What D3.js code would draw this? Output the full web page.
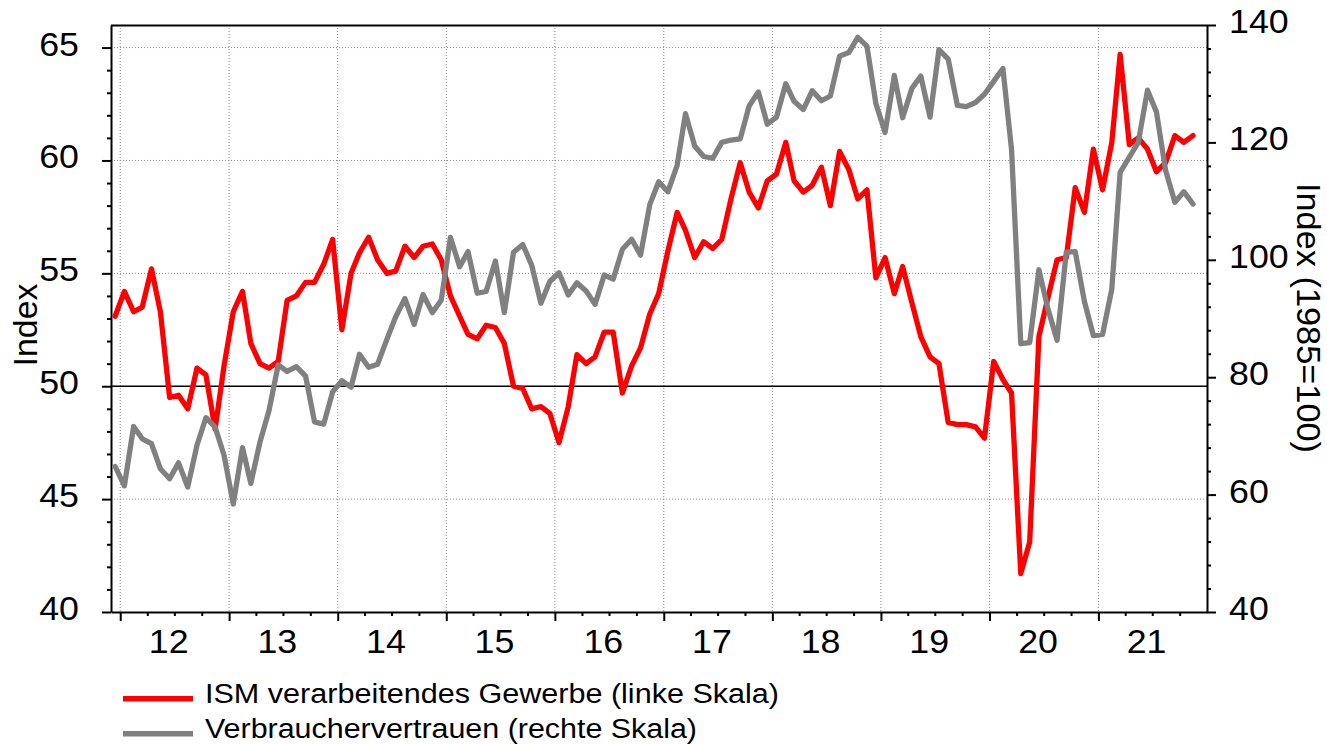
<!doctype html>
<html>
<head>
<meta charset="utf-8">
<title>ISM und Verbrauchervertrauen</title>
<script src="https://d3js.org/d3.v7.min.js"></script>
<style>
  body { margin: 0; background: #fff; }
  svg text { font-family: "Liberation Sans", Arial, sans-serif; fill: #000; }
</style>
</head>
<body>
<svg id="chart" width="1327" height="744"></svg>
<script>

// monthly values, Dec 2011 .. Nov 2021
var ism = [53.1,
  54.2, 53.3, 53.5, 55.2, 53.3, 49.5, 49.6, 49.0, 50.8, 50.5, 48.1, 50.9,
  53.3, 54.2, 51.9, 51.0, 50.8, 51.1, 53.8, 54.0, 54.6, 54.6, 55.4, 56.5,
  52.5, 55.0, 55.9, 56.6, 55.6, 55.0, 55.1, 56.2, 55.7, 56.2, 56.3, 55.6,
  54.0, 53.1, 52.3, 52.1, 52.7, 52.6, 51.9, 50.0, 49.9, 49.0, 49.1, 48.8,
  47.5, 49.1, 51.4, 51.0, 51.3, 52.4, 52.4, 49.7, 50.9, 51.7, 53.2, 54.1,
  56.0, 57.7, 56.9, 55.7, 56.4, 56.1, 56.5, 58.3, 59.9, 58.6, 57.9, 59.1,
  59.4, 60.8, 59.1, 58.6, 58.9, 59.7, 58.0, 60.4, 59.6, 58.3, 58.7, 54.8,
  55.7, 54.1, 55.3, 53.7, 52.2, 51.3, 51.0, 48.4, 48.3, 48.3, 48.2, 47.7,
  51.1, 50.3, 49.7, 41.7, 43.1, 52.2, 53.9, 55.6, 55.7, 58.8, 57.7, 60.5,
  58.7, 60.8, 64.7, 60.7, 61.0, 60.5, 59.5, 59.9, 61.1, 60.8, 61.1];

var consumer = [64.8,
  61.5, 71.6, 69.5, 68.7, 64.4, 62.7, 65.4, 61.3, 68.4, 73.1, 71.5, 66.7,
  58.4, 68.0, 61.9, 69.0, 74.3, 82.1, 81.0, 81.8, 80.2, 72.4, 72.0, 77.5,
  79.4, 78.3, 83.9, 81.7, 82.2, 86.4, 90.3, 93.4, 89.0, 94.1, 91.0, 93.1,
  103.8, 98.8, 101.4, 94.3, 94.6, 99.8, 91.0, 101.3, 102.6, 99.1, 92.6, 96.3,
  97.8, 94.0, 96.1, 94.7, 92.4, 97.4, 96.7, 101.8, 103.5, 100.8, 109.4, 113.3,
  111.6, 116.1, 124.9, 119.4, 117.6, 117.3, 120.0, 120.4, 120.6, 126.2, 128.6, 123.1,
  124.3, 130.0, 127.0, 125.6, 128.8, 127.1, 127.9, 134.7, 135.3, 137.9, 136.4, 126.6,
  121.7, 131.4, 124.2, 129.2, 131.3, 124.3, 135.8, 134.2, 126.3, 126.1, 126.8, 128.2,
  130.4, 132.6, 118.8, 85.7, 85.9, 98.3, 91.7, 86.3, 101.3, 101.4, 92.9, 87.1,
  87.3, 95.0, 114.9, 117.5, 120.0, 128.9, 125.2, 115.2, 109.8, 111.6, 109.5];

var yearLabels = ["12", "13", "14", "15", "16", "17", "18", "19", "20", "21"];
var leftTicks = [40, 45, 50, 55, 60, 65];
var rightTicks = [40, 60, 80, 100, 120, 140];
var legendLabels = ["ISM verarbeitendes Gewerbe (linke Skala)", "Verbrauchervertrauen (rechte Skala)"];

var svg = d3.select("#chart");
var margin = {top: 25, right: 120, bottom: 132, left: 111},
    width = 1327 - margin.left - margin.right,
    height = 744 - margin.top - margin.bottom;

// points sit in the middle of each month
var months = d3.timeMonth.range(new Date(2011, 11, 1), new Date(2021, 11, 1))
  .map(function(d) { return d3.timeDay.offset(d, 14); });
var years = d3.timeYear.range(new Date(2012, 0, 1), new Date(2022, 0, 1));
var quarters = d3.timeMonth.range(new Date(2012, 0, 1), new Date(2022, 0, 1))
  .filter(function(d) { return d.getMonth() % 3 === 0 && d.getMonth() !== 0; });

var x = d3.scaleTime()
    .domain([new Date(2011, 11, 1), new Date(2022, 0, 1)])
    .range([0, width]);
var yL = d3.scaleLinear().domain([40, 66]).range([height, 0]);
var yR = d3.scaleLinear().domain([40, 140]).range([height, 0]);

var g = svg.append("g").attr("transform", "translate(" + margin.left + "," + margin.top + ")");

// grid
g.selectAll(".vgrid").data(years).enter().append("line")
  .attr("x1", function(d) { return x(d); }).attr("x2", function(d) { return x(d); })
  .attr("y1", 0).attr("y2", height)
  .attr("stroke", "#888").attr("stroke-width", 1).attr("stroke-dasharray", "1,2");
g.selectAll(".hgrid").data(leftTicks.filter(function(v) { return v !== 50 && v !== 40; })).enter().append("line")
  .attr("x1", 0).attr("x2", width)
  .attr("y1", function(d) { return yL(d); }).attr("y2", function(d) { return yL(d); })
  .attr("stroke", "#888").attr("stroke-width", 1).attr("stroke-dasharray", "1,2");
g.append("line")
  .attr("x1", 0).attr("x2", width).attr("y1", yL(50)).attr("y2", yL(50))
  .attr("stroke", "#000").attr("stroke-width", 1.5);

// axes
function styleAxis(sel) {
  sel.selectAll("path").attr("stroke", "#000").attr("stroke-width", 2);
  sel.selectAll("line").attr("stroke", "#000").attr("stroke-width", 2);
}
g.append("g").attr("transform", "translate(0," + height + ")")
  .call(d3.axisBottom(x).tickValues(years).tickSize(9).tickSizeOuter(0).tickFormat(""))
  .call(styleAxis);
g.append("g").attr("transform", "translate(0," + height + ")")
  .call(d3.axisBottom(x).tickValues(quarters).tickSize(4).tickSizeOuter(0).tickFormat(""))
  .call(styleAxis).select(".domain").remove();
g.append("g")
  .call(d3.axisLeft(yL).tickValues(leftTicks).tickSize(9).tickSizeOuter(0).tickFormat(""))
  .call(styleAxis);
g.append("g")
  .call(d3.axisLeft(yL).tickValues(d3.range(41, 66).filter(function(v) { return v % 5; }))
    .tickSize(4).tickSizeOuter(0).tickFormat(""))
  .call(styleAxis).select(".domain").remove();
g.append("g").attr("transform", "translate(" + width + ",0)")
  .call(d3.axisRight(yR).tickValues(rightTicks).tickSize(9).tickSizeOuter(0).tickFormat(""))
  .call(styleAxis);
g.append("g").attr("transform", "translate(" + width + ",0)")
  .call(d3.axisRight(yR).tickValues(d3.range(44, 140, 4).filter(function(v) { return v % 20; }))
    .tickSize(4).tickSizeOuter(0).tickFormat(""))
  .call(styleAxis).select(".domain").remove();
g.append("line").attr("x1", 0).attr("x2", width).attr("y1", 0.5).attr("y2", 0.5)
  .attr("stroke", "#000").attr("stroke-width", 2);

// tick labels
g.selectAll(".ylab").data(leftTicks).enter().append("text")
  .attr("transform", function(d) { return "translate(-32," + (yL(d) + 8) + ") scale(1.1,1)"; })
  .attr("text-anchor", "end").style("font-size", "32.5px")
  .text(function(d) { return d; });
g.selectAll(".rlab").data(rightTicks).enter().append("text")
  .attr("transform", function(d) { return "translate(" + (width + 22) + "," + (yR(d) + 8) + ") scale(1.1,1)"; })
  .attr("text-anchor", "start").style("font-size", "32.5px")
  .text(function(d) { return d; });
g.selectAll(".xlab").data(yearLabels).enter().append("text")
  .attr("transform", function(d) {
    return "translate(" + x(new Date(2000 + (+d), 5, 12)) + "," + (height + 40.7) + ") scale(1.1,1)";
  })
  .attr("text-anchor", "middle").style("font-size", "32.5px")
  .text(function(d) { return d; });

// axis titles
svg.append("text")
  .attr("transform", "translate(37,325) rotate(-90)")
  .attr("text-anchor", "middle").style("font-size", "33px")
  .attr("textLength", 83).attr("lengthAdjust", "spacingAndGlyphs")
  .text("Index");
svg.append("text")
  .attr("transform", "translate(1297,318) rotate(90)")
  .attr("text-anchor", "middle").style("font-size", "32.5px")
  .attr("textLength", 270).attr("lengthAdjust", "spacingAndGlyphs")
  .text("Index (1985=100)");

// series
var lineL = d3.line().x(function(d, i) { return x(months[i]); }).y(function(d) { return yL(d); });
var lineR = d3.line().x(function(d, i) { return x(months[i]); }).y(function(d) { return yR(d); });
g.append("path").datum(ism).attr("d", lineL)
  .attr("fill", "none").attr("stroke", "#ff0000").attr("stroke-width", 5.3)
  .attr("stroke-linejoin", "round").attr("stroke-linecap", "round");
g.append("path").datum(consumer).attr("d", lineR)
  .attr("fill", "none").attr("stroke", "#808080").attr("stroke-width", 5.3)
  .attr("stroke-linejoin", "round").attr("stroke-linecap", "round");

// legend
var legend = svg.append("g");
var legendColors = ["#ff0000", "#808080"];
var legendWidths = [574, 492];
legendLabels.forEach(function(lab, i) {
  var ly = 698.7 + i * 35;
  legend.append("line").attr("x1", 123).attr("x2", 193).attr("y1", ly).attr("y2", ly)
    .attr("stroke", legendColors[i]).attr("stroke-width", 5.5);
  legend.append("text").attr("x", 205).attr("y", ly + 4)
    .style("font-size", "27px")
    .attr("textLength", legendWidths[i]).attr("lengthAdjust", "spacingAndGlyphs")
    .text(lab);
});

</script>
</body>
</html>
